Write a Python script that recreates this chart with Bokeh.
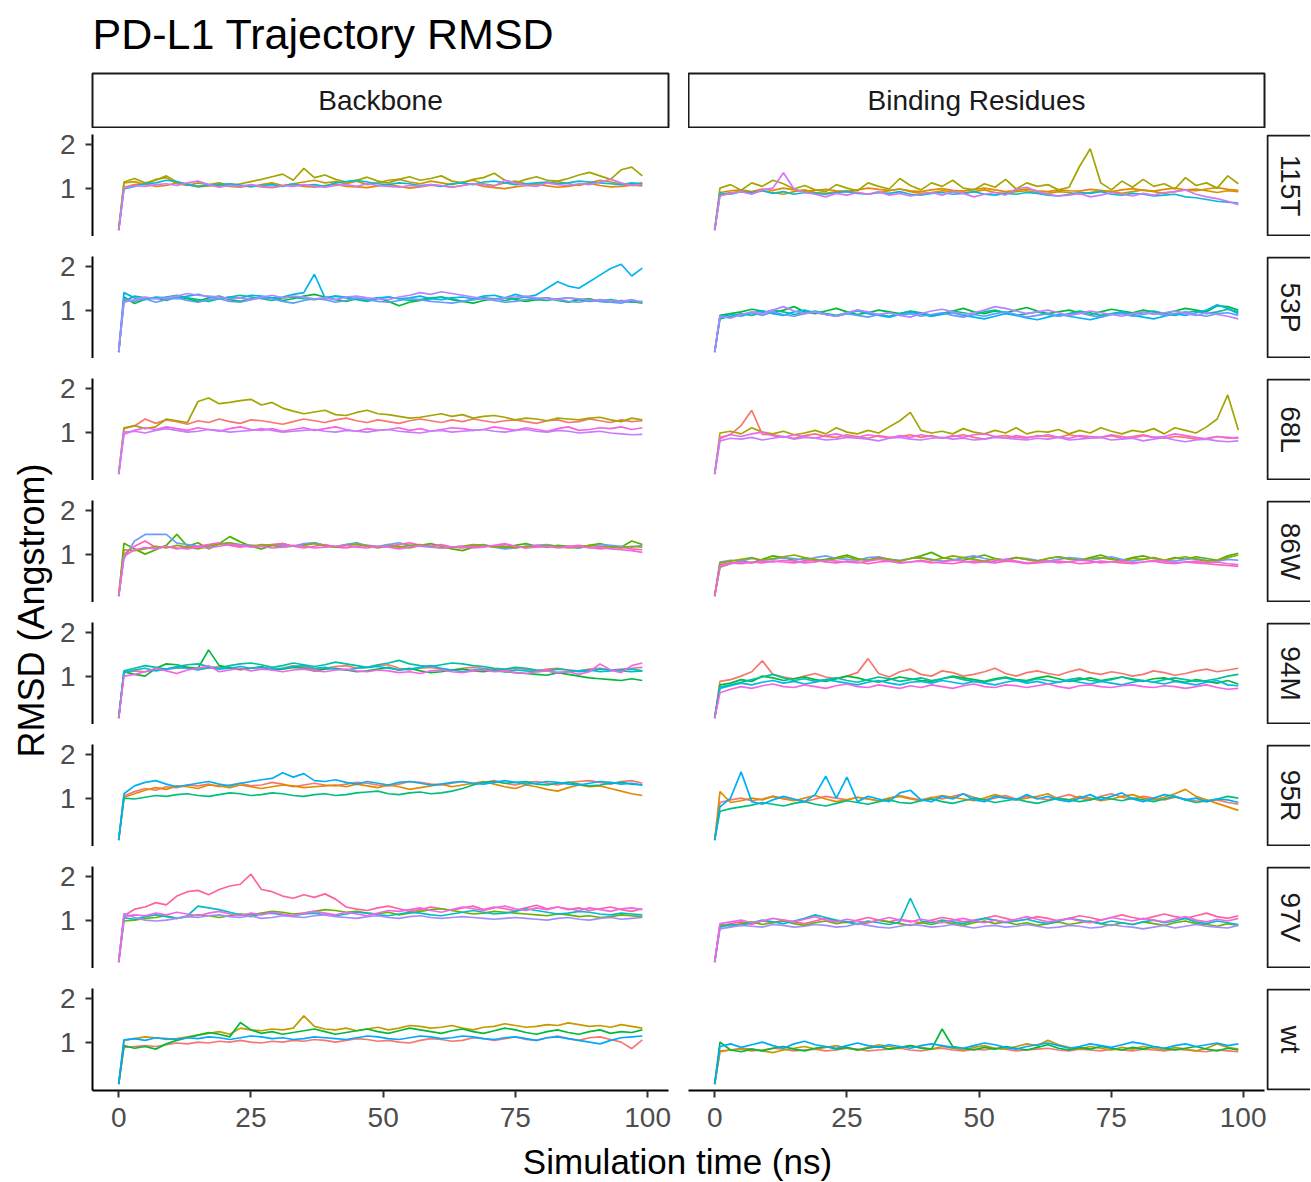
import math
from bokeh.plotting import figure
from bokeh.layouts import column, row
from bokeh.models import Range1d, FixedTicker, Spacer
from bokeh.core.properties import value
from bokeh.embed import file_html
from bokeh.resources import INLINE

FONT = "Liberation Sans"

# ---------------- data (RMSD in hundredths of an Angstrom) ----------------
TIME = [0, 1, 3, 5, 7, 9, 11, 13, 15, 17, 19, 21, 23, 25, 27, 29, 31, 33, 35, 37, 39,
        41, 43, 45, 47, 49, 51, 53, 55, 57, 59, 61, 63, 65, 67, 69, 71, 73, 75, 77, 79,
        81, 83, 85, 87, 89, 91, 93, 95, 97, 99]

MUTANTS = ["115T", "53P", "68L", "86W", "94M", "95R", "97V", "wt"]
FACETS = ["Backbone", "Binding Residues"]
X_TICKS = [0, 25, 50, 75, 100]
Y_TICKS = [1, 2]

COL_115T = ["#E58700", "#C99800", "#A3A500", "#00BCD8", "#D575FE"]
COL_53P = ["#00BA38", "#00C08B", "#00B4EF", "#619CFF", "#B385FF"]
COL_68L = ["#F8766D", "#A3A500", "#F564E3", "#C77CFF", "#FF64B0"]
COL_86W = ["#4DB300", "#6A9DFF", "#FF5FB8", "#8AAB00", "#F066EA"]
COL_94M = ["#F8766D", "#00BA38", "#00C19F", "#00B9E3", "#F564E3"]
COL_95R = ["#F8766D", "#E08B00", "#00BF7D", "#00B0F6"]
COL_97V = ["#FF62A0", "#68B300", "#00BFC4", "#A48CFF", "#F066EA"]
COL_WT = ["#F8766D", "#C49A00", "#00BA38", "#00A9FF"]

BB_115T = [
    [4, 102, 108, 110, 104, 106, 112, 108, 103, 105, 107, 104, 102, 106, 103, 101, 105, 108, 104, 102, 106, 109, 104, 103, 101, 105, 108, 104, 100, 103, 107, 105, 102, 106, 110, 104, 101, 99, 103, 106, 109, 105, 102, 104, 108, 111, 106, 103, 104, 107, 105],
    [4, 112, 115, 108, 120, 124, 110, 106, 112, 108, 104, 110, 106, 103, 108, 112, 106, 110, 114, 118, 112, 115, 110, 116, 108, 112, 118, 120, 114, 110, 116, 112, 108, 114, 118, 110, 106, 112, 116, 110, 108, 112, 115, 110, 106, 112, 118, 114, 110, 108, 112],
    [4, 114, 122, 112, 118, 128, 114, 110, 104, 108, 112, 106, 110, 115, 120, 126, 132, 118, 145, 124, 130, 120, 114, 118, 125, 116, 112, 120, 126, 118, 122, 128, 116, 112, 120, 124, 134, 118, 112, 120, 126, 118, 116, 122, 130, 136, 128, 120, 142, 148, 128],
    [4, 98, 104, 110, 112, 118, 115, 108, 104, 106, 108, 110, 107, 104, 106, 108, 104, 110, 106, 108, 104, 112, 115, 118, 114, 110, 108, 112, 110, 106, 108, 104, 110, 112, 108, 114, 116, 112, 108, 110, 112, 114, 110, 112, 116, 114, 112, 110, 108, 112, 110],
    [4, 100, 106, 104, 108, 110, 106, 112, 116, 108, 102, 106, 104, 108, 104, 102, 106, 104, 108, 104, 102, 106, 108, 104, 110, 106, 104, 102, 106, 104, 108, 106, 102, 106, 110, 108, 104, 118, 112, 106, 104, 112, 108, 106, 110, 108, 114, 120, 112, 106, 108],
]
BR_115T = [
    [4, 90, 94, 96, 92, 98, 95, 100, 96, 93, 95, 97, 94, 92, 96, 100, 97, 95, 98, 94, 92, 96, 99, 95, 93, 97, 100, 96, 92, 95, 98, 94, 92, 96, 94, 93, 97, 95, 92, 96, 99, 95, 93, 97, 100, 96, 94, 98, 101, 97, 95],
    [4, 86, 90, 92, 88, 94, 90, 86, 92, 96, 90, 88, 92, 94, 90, 86, 90, 94, 98, 92, 88, 90, 94, 92, 88, 92, 96, 90, 88, 92, 94, 90, 88, 92, 90, 86, 90, 94, 92, 88, 92, 96, 92, 88, 92, 96, 98, 94, 90, 94, 92],
    [4, 100, 108, 95, 112, 104, 118, 110, 98, 106, 96, 92, 108, 100, 94, 112, 104, 98, 122, 106, 96, 112, 104, 118, 100, 96, 110, 102, 120, 98, 112, 104, 108, 96, 102, 150, 190, 112, 96, 116, 102, 120, 104, 110, 98, 124, 106, 112, 100, 128, 110],
    [4, 88, 86, 92, 90, 94, 88, 92, 86, 90, 88, 86, 90, 92, 88, 86, 90, 88, 92, 86, 84, 88, 90, 86, 88, 92, 86, 84, 88, 86, 90, 88, 84, 82, 86, 90, 88, 92, 86, 84, 88, 86, 82, 84, 86, 80, 78, 74, 70, 68, 66],
    [4, 82, 88, 92, 86, 96, 100, 135, 98, 90, 86, 80, 88, 84, 90, 86, 92, 84, 88, 82, 86, 90, 84, 92, 88, 80, 86, 90, 84, 98, 102, 92, 86, 82, 84, 88, 80, 84, 90, 86, 82, 88, 84, 90, 92, 96, 86, 80, 76, 70, 62],
]

BB_53P = [
    [4, 130, 115, 125, 128, 122, 130, 126, 120, 128, 132, 124, 120, 126, 130, 128, 122, 126, 132, 136, 130, 124, 120, 126, 122, 128, 120, 110, 118, 122, 126, 130, 124, 120, 116, 122, 126, 128, 124, 120, 124, 128, 122, 118, 124, 126, 120, 118, 122, 120, 116],
    [4, 120, 132, 128, 126, 130, 134, 128, 124, 120, 126, 130, 134, 130, 126, 122, 128, 130, 126, 124, 128, 132, 128, 124, 120, 126, 130, 126, 122, 124, 128, 130, 126, 120, 124, 128, 126, 122, 126, 130, 124, 122, 126, 128, 124, 120, 122, 124, 120, 118, 120],
    [4, 140, 128, 124, 130, 128, 126, 132, 136, 130, 126, 130, 128, 134, 132, 128, 130, 136, 140, 182, 128, 132, 130, 126, 124, 128, 130, 126, 128, 132, 126, 124, 128, 130, 126, 132, 134, 128, 136, 130, 135, 150, 165, 155, 150, 165, 180, 195, 205, 178, 196],
    [4, 125, 120, 126, 118, 124, 128, 122, 118, 124, 126, 120, 118, 124, 128, 126, 120, 116, 122, 126, 124, 118, 122, 128, 124, 120, 118, 122, 126, 124, 120, 118, 116, 120, 124, 126, 122, 118, 120, 124, 126, 128, 124, 120, 118, 122, 120, 118, 116, 122, 118],
    [4, 118, 124, 130, 126, 128, 132, 138, 134, 132, 130, 126, 128, 124, 130, 134, 128, 132, 130, 126, 128, 124, 130, 132, 128, 126, 124, 130, 134, 140, 136, 142, 138, 134, 130, 126, 124, 128, 130, 132, 128, 126, 124, 128, 126, 122, 124, 122, 120, 124, 118],
]
BR_53P = [
    [4, 88, 92, 96, 102, 98, 94, 100, 108, 96, 92, 98, 104, 96, 90, 94, 100, 96, 92, 98, 94, 88, 92, 98, 104, 96, 92, 98, 94, 100, 106, 98, 92, 96, 100, 94, 90, 96, 102, 98, 94, 100, 96, 92, 98, 104, 100, 96, 110, 108, 100],
    [4, 80, 86, 92, 88, 94, 100, 96, 90, 94, 98, 92, 88, 94, 100, 94, 90, 86, 92, 96, 90, 86, 92, 98, 94, 90, 96, 100, 94, 88, 92, 96, 90, 86, 92, 98, 94, 88, 92, 96, 90, 94, 98, 92, 88, 94, 98, 92, 96, 102, 96],
    [4, 84, 90, 86, 94, 98, 92, 88, 96, 100, 94, 90, 86, 92, 98, 92, 88, 84, 90, 96, 92, 86, 90, 94, 88, 84, 80, 86, 92, 88, 82, 78, 84, 90, 86, 82, 78, 84, 90, 96, 88, 84, 80, 86, 92, 88, 94, 100, 112, 104, 92],
    [4, 86, 82, 90, 94, 88, 96, 90, 86, 92, 96, 90, 86, 92, 88, 84, 90, 94, 88, 92, 86, 90, 94, 88, 84, 90, 86, 92, 96, 90, 84, 88, 92, 86, 90, 94, 88, 84, 90, 92, 86, 90, 94, 88, 92, 96, 90, 86, 92, 94, 88],
    [4, 86, 82, 90, 96, 92, 100, 108, 98, 92, 96, 90, 86, 94, 100, 96, 90, 94, 88, 84, 92, 98, 102, 96, 90, 94, 100, 108, 104, 98, 92, 96, 100, 94, 88, 92, 98, 94, 90, 86, 92, 96, 90, 94, 98, 92, 88, 94, 90, 86, 80],
]

BB_68L = [
    [4, 108, 114, 130, 120, 128, 124, 118, 126, 122, 130, 124, 120, 128, 126, 122, 118, 124, 130, 126, 122, 128, 132, 126, 122, 128, 124, 120, 126, 130, 126, 122, 128, 124, 130, 126, 122, 126, 128, 124, 120, 126, 128, 122, 124, 130, 126, 122, 128, 124, 126],
    [4, 110, 115, 108, 112, 130, 126, 122, 170, 178, 165, 168, 172, 175, 162, 168, 155, 148, 142, 146, 150, 140, 138, 145, 150, 142, 140, 136, 132, 134, 138, 142, 136, 140, 132, 136, 138, 134, 128, 132, 130, 126, 132, 130, 128, 132, 134, 128, 124, 132, 128],
    [4, 95, 104, 110, 106, 112, 108, 104, 110, 106, 102, 108, 112, 106, 104, 108, 102, 106, 110, 104, 108, 112, 106, 102, 108, 104, 106, 110, 104, 108, 102, 106, 110, 108, 104, 106, 112, 108, 104, 110, 106, 102, 108, 112, 104, 106, 110, 108, 112, 106, 110],
    [4, 100, 102, 98, 104, 108, 104, 100, 102, 106, 104, 100, 102, 104, 108, 104, 100, 102, 104, 106, 102, 100, 104, 102, 100, 104, 106, 102, 100, 98, 102, 104, 100, 102, 104, 106, 102, 100, 104, 106, 102, 100, 104, 102, 98, 100, 102, 98, 96, 94, 95],
]
BR_68L = [
    [4, 85, 95, 115, 150, 95, 94, 90, 86, 92, 96, 90, 88, 94, 90, 86, 92, 88, 90, 94, 88, 92, 86, 90, 94, 88, 84, 90, 92, 88, 86, 92, 90, 88, 94, 90, 86, 88, 92, 86, 90, 94, 88, 86, 90, 88, 84, 86, 90, 88, 86],
    [4, 98, 102, 96, 110, 100, 96, 102, 94, 98, 104, 96, 110, 100, 96, 104, 98, 112, 126, 145, 104, 98, 102, 96, 108, 100, 96, 104, 98, 110, 96, 102, 100, 106, 96, 104, 98, 110, 102, 96, 104, 100, 108, 96, 110, 104, 98, 112, 130, 185, 105],
    [4, 88, 94, 90, 96, 100, 92, 88, 94, 90, 86, 92, 96, 90, 88, 94, 90, 86, 92, 88, 94, 90, 86, 92, 88, 94, 96, 90, 86, 92, 88, 90, 94, 88, 86, 92, 90, 88, 94, 90, 86, 92, 88, 90, 96, 92, 88, 84, 90, 86, 88],
    [4, 80, 86, 84, 88, 82, 86, 90, 84, 88, 86, 82, 84, 88, 86, 84, 80, 86, 88, 84, 82, 86, 88, 84, 86, 82, 84, 88, 86, 84, 82, 86, 84, 88, 82, 84, 86, 88, 82, 84, 86, 80, 84, 88, 82, 78, 82, 84, 80, 78, 80],
]

BB_86W = [
    [4, 125, 112, 100, 110, 120, 145, 118, 126, 112, 124, 140, 128, 118, 112, 120, 124, 118, 122, 126, 120, 116, 122, 126, 118, 116, 122, 118, 114, 120, 124, 118, 112, 108, 116, 120, 118, 114, 120, 124, 118, 116, 120, 118, 114, 120, 124, 118, 116, 130, 122],
    [4, 90, 130, 145, 145, 145, 125, 122, 118, 120, 124, 126, 122, 120, 118, 122, 120, 118, 124, 126, 120, 118, 122, 124, 120, 118, 122, 126, 120, 118, 116, 114, 116, 118, 120, 122, 116, 112, 114, 118, 120, 122, 118, 116, 114, 118, 122, 120, 118, 116, 120],
    [4, 100, 118, 130, 115, 118, 112, 116, 118, 122, 126, 120, 116, 120, 118, 122, 124, 118, 114, 118, 122, 116, 114, 118, 120, 116, 118, 122, 126, 120, 118, 122, 116, 114, 118, 120, 116, 122, 118, 114, 120, 118, 116, 118, 120, 116, 112, 114, 116, 112, 110],
    [4, 110, 108, 112, 118, 114, 120, 116, 112, 118, 122, 126, 120, 118, 122, 120, 116, 118, 120, 124, 118, 116, 120, 122, 118, 114, 118, 116, 120, 122, 118, 114, 116, 118, 122, 120, 116, 118, 114, 118, 116, 120, 118, 114, 116, 120, 118, 116, 114, 118, 116],
    [4, 95, 110, 115, 112, 118, 114, 112, 116, 114, 118, 122, 120, 116, 118, 114, 116, 120, 118, 114, 116, 118, 120, 116, 114, 118, 116, 112, 116, 120, 118, 114, 116, 118, 114, 116, 120, 124, 118, 114, 116, 118, 114, 116, 118, 114, 116, 112, 110, 108, 104],
]
BR_86W = [
    [4, 70, 78, 84, 80, 88, 96, 92, 86, 90, 84, 88, 92, 98, 90, 86, 92, 88, 84, 90, 96, 104, 92, 88, 86, 92, 98, 90, 86, 92, 88, 84, 90, 94, 90, 86, 92, 98, 90, 86, 92, 96, 90, 86, 92, 88, 94, 90, 86, 96, 102],
    [4, 82, 86, 84, 90, 86, 88, 92, 90, 86, 92, 96, 90, 88, 86, 92, 94, 88, 86, 90, 92, 88, 84, 86, 92, 96, 90, 86, 88, 92, 90, 86, 84, 88, 92, 90, 86, 90, 94, 88, 84, 88, 92, 86, 84, 88, 90, 86, 84, 88, 86],
    [4, 76, 80, 78, 82, 80, 84, 82, 80, 84, 86, 82, 80, 84, 82, 78, 82, 84, 80, 82, 86, 82, 80, 78, 82, 84, 82, 80, 84, 82, 78, 80, 82, 84, 82, 78, 80, 84, 82, 80, 78, 82, 84, 80, 78, 82, 80, 78, 76, 74, 72],
    [4, 80, 84, 88, 92, 86, 90, 94, 98, 92, 88, 84, 90, 94, 88, 86, 92, 88, 84, 90, 92, 86, 90, 96, 92, 88, 84, 90, 86, 92, 88, 84, 90, 94, 88, 86, 90, 92, 88, 84, 90, 88, 92, 86, 90, 94, 88, 84, 86, 92, 98],
    [4, 72, 78, 82, 80, 84, 82, 86, 84, 80, 82, 86, 84, 82, 80, 84, 88, 84, 80, 82, 84, 80, 82, 86, 84, 80, 82, 84, 88, 84, 80, 82, 84, 80, 82, 86, 84, 80, 82, 84, 80, 82, 86, 84, 80, 82, 84, 80, 82, 78, 76],
]

BB_94M = [
    [4, 108, 112, 110, 114, 116, 118, 120, 116, 118, 122, 118, 114, 118, 120, 116, 118, 124, 120, 116, 118, 122, 124, 118, 120, 124, 126, 118, 114, 118, 120, 116, 114, 118, 120, 118, 116, 114, 118, 116, 112, 116, 118, 114, 112, 116, 118, 114, 116, 118, 120],
    [4, 110, 104, 100, 118, 128, 126, 120, 118, 160, 124, 120, 116, 118, 122, 114, 116, 120, 118, 112, 116, 118, 114, 110, 112, 116, 120, 114, 118, 112, 108, 110, 114, 116, 112, 110, 114, 110, 108, 106, 104, 102, 108, 104, 100, 96, 94, 92, 90, 94, 90],
    [4, 112, 118, 124, 120, 116, 122, 126, 128, 122, 118, 124, 128, 130, 126, 120, 124, 130, 126, 122, 126, 132, 128, 124, 120, 126, 130, 136, 128, 124, 122, 126, 130, 128, 124, 122, 118, 116, 120, 118, 114, 112, 116, 114, 110, 112, 116, 114, 112, 110, 112],
    [4, 108, 114, 118, 112, 116, 120, 118, 114, 120, 116, 118, 122, 118, 120, 116, 118, 122, 124, 118, 120, 116, 114, 118, 120, 122, 118, 114, 116, 120, 124, 118, 114, 110, 114, 116, 112, 110, 114, 112, 110, 112, 108, 110, 112, 114, 110, 112, 114, 116, 112],
    [4, 100, 104, 110, 118, 112, 106, 114, 118, 124, 110, 114, 118, 112, 116, 114, 110, 114, 116, 112, 110, 114, 116, 112, 110, 114, 112, 108, 110, 106, 112, 114, 110, 108, 112, 114, 110, 112, 108, 106, 110, 112, 108, 110, 104, 110, 128, 114, 108, 124, 130],
]
BR_94M = [
    [4, 88, 92, 100, 110, 135, 104, 98, 94, 100, 106, 98, 94, 100, 108, 140, 106, 98, 110, 116, 104, 100, 112, 108, 100, 104, 110, 118, 106, 100, 108, 112, 106, 102, 110, 116, 108, 104, 110, 106, 100, 104, 112, 108, 102, 106, 112, 116, 110, 114, 118],
    [4, 80, 84, 92, 88, 100, 96, 90, 94, 98, 92, 88, 94, 100, 96, 90, 86, 92, 98, 94, 90, 88, 94, 100, 96, 92, 88, 94, 98, 92, 90, 96, 100, 94, 88, 92, 96, 90, 94, 98, 92, 88, 94, 96, 90, 86, 92, 88, 84, 90, 82],
    [4, 75, 80, 86, 92, 98, 104, 96, 90, 94, 88, 92, 96, 90, 86, 92, 98, 94, 88, 92, 96, 90, 94, 98, 92, 88, 86, 92, 96, 90, 88, 94, 90, 86, 92, 96, 90, 88, 92, 98, 94, 90, 86, 92, 96, 92, 88, 90, 94, 100, 104],
    [4, 72, 78, 84, 80, 86, 90, 84, 88, 82, 86, 92, 88, 84, 80, 86, 90, 84, 80, 86, 88, 84, 90, 86, 82, 88, 84, 80, 86, 90, 84, 88, 82, 86, 90, 86, 82, 88, 84, 80, 86, 90, 86, 82, 88, 84, 80, 86, 90, 80, 78],
    [4, 62, 70, 76, 72, 78, 82, 76, 74, 80, 76, 72, 78, 82, 76, 74, 80, 76, 72, 78, 74, 80, 76, 72, 78, 82, 76, 74, 80, 78, 74, 78, 82, 76, 72, 78, 80, 76, 74, 78, 80, 76, 74, 78, 76, 72, 76, 80, 74, 70, 72],
]

BB_95R = [
    [4, 105, 115, 122, 118, 126, 124, 130, 128, 132, 126, 130, 134, 128, 130, 136, 132, 126, 130, 134, 130, 128, 132, 136, 134, 130, 128, 132, 138, 136, 132, 130, 134, 138, 132, 136, 140, 134, 130, 136, 138, 134, 130, 136, 138, 140, 136, 132, 138, 140, 134],
    [4, 102, 110, 118, 124, 120, 128, 126, 122, 130, 128, 124, 130, 126, 122, 126, 130, 128, 124, 126, 128, 130, 126, 132, 128, 124, 130, 126, 120, 124, 128, 132, 126, 130, 134, 138, 132, 126, 122, 130, 126, 120, 116, 124, 130, 126, 128, 122, 116, 110, 106],
    [4, 100, 98, 102, 106, 104, 108, 110, 106, 104, 108, 112, 110, 106, 108, 112, 110, 106, 104, 108, 110, 106, 108, 112, 114, 116, 110, 108, 112, 114, 110, 112, 116, 122, 130, 136, 138, 134, 136, 138, 132, 130, 134, 136, 132, 128, 130, 134, 136, 132, 130],
    [4, 110, 128, 136, 140, 132, 126, 130, 134, 138, 132, 128, 134, 138, 142, 145, 158, 148, 156, 140, 138, 142, 136, 132, 138, 134, 130, 136, 138, 134, 130, 132, 136, 138, 134, 132, 136, 140, 136, 132, 134, 138, 136, 132, 130, 134, 138, 136, 132, 134, 130],
]
BR_95R = [
    [4, 90, 96, 100, 94, 98, 104, 100, 96, 92, 98, 104, 100, 96, 102, 98, 94, 100, 106, 100, 96, 102, 98, 104, 110, 102, 96, 100, 106, 98, 104, 100, 96, 102, 108, 100, 96, 104, 110, 102, 98, 104, 100, 96, 102, 98, 94, 92, 96, 90, 86],
    [4, 115, 90, 94, 100, 96, 104, 98, 94, 100, 106, 98, 92, 96, 102, 98, 94, 100, 104, 98, 94, 100, 106, 102, 98, 94, 100, 108, 102, 96, 100, 104, 110, 98, 96, 104, 100, 94, 98, 104, 108, 100, 96, 102, 110, 120, 104, 96, 88, 80, 72],
    [4, 70, 76, 80, 84, 90, 86, 82, 88, 92, 86, 82, 88, 94, 90, 86, 92, 96, 90, 88, 94, 98, 92, 88, 94, 100, 96, 90, 94, 98, 92, 88, 94, 100, 96, 92, 96, 102, 98, 94, 100, 96, 92, 98, 104, 96, 90, 94, 98, 104, 100],
    [4, 80, 100, 160, 92, 86, 96, 104, 98, 92, 108, 150, 100, 148, 92, 104, 98, 92, 112, 118, 96, 92, 104, 98, 110, 96, 92, 104, 100, 96, 108, 98, 104, 96, 92, 100, 108, 96, 104, 112, 98, 92, 100, 108, 104, 96, 100, 92, 98, 96, 90],
]

BB_97V = [
    [4, 110, 125, 130, 140, 135, 155, 165, 168, 158, 170, 178, 182, 205, 170, 165, 155, 150, 158, 152, 160, 148, 130, 125, 122, 128, 132, 126, 120, 124, 130, 126, 122, 128, 132, 124, 130, 126, 122, 128, 134, 126, 130, 124, 128, 122, 126, 130, 124, 120, 126],
    [4, 98, 100, 104, 106, 110, 104, 108, 112, 110, 106, 110, 114, 112, 116, 120, 118, 114, 116, 120, 124, 122, 118, 120, 116, 114, 118, 112, 116, 120, 124, 126, 122, 118, 114, 116, 120, 118, 116, 114, 112, 110, 114, 112, 108, 110, 106, 108, 112, 110, 108],
    [4, 105, 102, 108, 112, 108, 104, 110, 132, 128, 124, 118, 112, 108, 114, 116, 112, 110, 114, 116, 112, 110, 114, 118, 116, 112, 110, 114, 118, 116, 112, 110, 114, 118, 122, 118, 114, 116, 120, 126, 122, 118, 114, 116, 120, 118, 114, 112, 116, 114, 112],
    [4, 115, 106, 100, 98, 100, 104, 108, 106, 110, 112, 108, 106, 110, 104, 106, 110, 108, 106, 110, 112, 108, 106, 104, 108, 110, 106, 104, 108, 110, 106, 104, 106, 108, 106, 104, 102, 104, 106, 104, 102, 100, 104, 106, 102, 100, 104, 106, 102, 104, 106],
    [4, 108, 112, 110, 116, 112, 118, 114, 110, 116, 120, 114, 110, 116, 112, 118, 114, 110, 116, 120, 116, 112, 118, 114, 110, 116, 122, 120, 124, 128, 122, 118, 124, 130, 126, 122, 128, 132, 126, 122, 128, 124, 130, 126, 122, 128, 124, 120, 126, 128, 124],
]
BR_97V = [
    [4, 86, 92, 96, 90, 98, 94, 100, 96, 92, 98, 104, 98, 94, 100, 106, 100, 96, 102, 98, 94, 100, 106, 102, 96, 100, 104, 110, 104, 98, 102, 108, 104, 98, 104, 110, 106, 100, 106, 112, 106, 102, 108, 114, 108, 104, 110, 116, 108, 104, 110],
    [4, 90, 86, 92, 96, 90, 94, 98, 92, 88, 94, 98, 92, 96, 90, 94, 100, 96, 92, 88, 94, 90, 96, 92, 88, 94, 98, 92, 96, 90, 94, 88, 92, 96, 90, 94, 98, 92, 88, 94, 90, 96, 92, 88, 94, 98, 92, 90, 86, 92, 88],
    [4, 84, 90, 88, 94, 100, 96, 92, 98, 104, 112, 106, 100, 96, 92, 98, 94, 90, 96, 150, 98, 94, 100, 96, 92, 98, 104, 100, 94, 98, 102, 96, 92, 98, 104, 100, 96, 92, 98, 94, 90, 96, 100, 94, 98, 104, 96, 92, 98, 94, 90],
    [4, 80, 84, 88, 86, 84, 90, 88, 84, 86, 90, 88, 84, 86, 92, 88, 84, 82, 86, 90, 88, 84, 86, 90, 86, 82, 86, 88, 84, 86, 90, 86, 82, 84, 88, 86, 82, 84, 90, 86, 84, 80, 84, 88, 82, 86, 90, 86, 84, 82, 88],
    [4, 92, 96, 100, 94, 98, 104, 100, 96, 102, 108, 100, 96, 102, 98, 94, 100, 106, 100, 96, 102, 98, 94, 100, 104, 98, 94, 100, 96, 102, 108, 102, 96, 100, 104, 98, 94, 100, 106, 102, 98, 104, 100, 96, 102, 108, 100, 96, 102, 98, 104],
]

BB_WT = [
    [4, 88, 90, 92, 90, 94, 98, 96, 100, 98, 102, 100, 104, 100, 98, 102, 100, 104, 102, 106, 104, 100, 104, 108, 106, 102, 104, 100, 98, 104, 108, 106, 102, 104, 110, 108, 104, 108, 112, 106, 104, 110, 114, 108, 104, 110, 112, 106, 100, 85, 105],
    [4, 104, 108, 112, 110, 106, 108, 112, 116, 120, 124, 118, 132, 128, 126, 130, 128, 132, 160, 136, 130, 128, 132, 126, 130, 134, 128, 132, 138, 136, 132, 134, 138, 132, 128, 134, 136, 142, 138, 134, 136, 140, 138, 144, 140, 136, 138, 134, 140, 136, 132],
    [4, 92, 86, 90, 84, 96, 104, 110, 116, 122, 118, 112, 145, 128, 120, 124, 118, 122, 126, 130, 124, 118, 122, 126, 130, 124, 120, 126, 132, 128, 124, 120, 126, 130, 124, 120, 126, 132, 128, 122, 118, 124, 128, 122, 118, 124, 128, 120, 124, 122, 128],
    [4, 105, 108, 104, 110, 108, 106, 110, 108, 112, 110, 106, 110, 114, 112, 108, 110, 106, 108, 112, 110, 108, 106, 110, 114, 112, 108, 106, 110, 114, 112, 108, 110, 114, 112, 108, 106, 110, 112, 108, 104, 110, 112, 108, 104, 100, 96, 104, 110, 112, 114],
]
BR_WT = [
    [4, 80, 82, 84, 80, 82, 86, 84, 80, 82, 84, 80, 82, 86, 84, 80, 82, 84, 86, 82, 80, 84, 86, 82, 80, 84, 82, 86, 84, 80, 82, 84, 86, 82, 80, 84, 82, 80, 84, 82, 80, 84, 82, 80, 84, 82, 80, 78, 82, 80, 78],
    [4, 78, 82, 86, 84, 80, 76, 82, 86, 90, 84, 88, 92, 86, 82, 88, 94, 90, 86, 92, 88, 84, 90, 86, 82, 88, 92, 86, 84, 90, 96, 92, 104, 94, 88, 84, 90, 86, 82, 88, 84, 90, 86, 82, 88, 84, 80, 86, 96, 88, 84],
    [4, 100, 82, 78, 84, 80, 86, 90, 84, 80, 86, 90, 84, 88, 82, 86, 90, 84, 88, 92, 86, 84, 130, 90, 86, 82, 88, 84, 90, 86, 82, 88, 94, 86, 82, 88, 84, 90, 86, 82, 88, 84, 90, 86, 82, 86, 90, 84, 80, 86, 82],
    [4, 90, 96, 88, 94, 100, 92, 86, 96, 102, 94, 90, 86, 92, 98, 92, 88, 94, 90, 86, 92, 96, 92, 88, 86, 92, 98, 94, 88, 84, 90, 94, 98, 92, 86, 90, 96, 92, 88, 94, 100, 96, 90, 86, 92, 96, 90, 94, 98, 92, 96],
]

PANELS = {
    "115T": (BB_115T, BR_115T, COL_115T),
    "53P": (BB_53P, BR_53P, COL_53P),
    "68L": (BB_68L, BR_68L, COL_68L),
    "86W": (BB_86W, BR_86W, COL_86W),
    "94M": (BB_94M, BR_94M, COL_94M),
    "95R": (BB_95R, BR_95R, COL_95R),
    "97V": (BB_97V, BR_97V, COL_97V),
    "wt": (BB_WT, BR_WT, COL_WT),
}

# ---------------- layout constants (page has no margin) ----------------
FRAME_W = 576
FRAME_H = 102
LEFT_BORDER = 38
YLAB_W = 54
SIDE_W = 44
TITLE_H = 72
STRIP_H = 54
GAPS = [6, 20, 20, 20, 20, 20, 20, 20]
BOTTOM_AXIS = 50
XLAB_H = 42
TOTAL_W = YLAB_W + LEFT_BORDER + FRAME_W + 20 + FRAME_W + 2 + SIDE_W

X_RANGE = (-4.95, 103.95)
Y_RANGE = (-0.106, 2.226)


def bare(**kw):
    p = figure(output_backend="svg", toolbar_location=None,
               x_axis_location=None, y_axis_location=None, **kw)
    p.xgrid.grid_line_color = None
    p.ygrid.grid_line_color = None
    p.outline_line_color = None
    p.background_fill_color = "white"
    p.border_fill_color = "white"
    return p


def style_axis(ax, ticks):
    ax.ticker = FixedTicker(ticks=ticks)
    ax.axis_line_color = "black"
    ax.axis_line_width = 2
    ax.major_tick_line_color = "#333333"
    ax.major_tick_line_width = 2
    ax.major_tick_in = 0
    ax.major_tick_out = 7
    ax.minor_tick_line_color = None
    ax.major_label_text_font = FONT
    ax.major_label_text_font_size = "28px"
    ax.major_label_text_color = "#4D4D4D"


def panel(series, colors, col, idx):
    last = idx == len(MUTANTS) - 1
    p = figure(output_backend="svg", toolbar_location=None,
               frame_width=FRAME_W, frame_height=FRAME_H,
               x_range=Range1d(*X_RANGE), y_range=Range1d(*Y_RANGE),
               x_axis_location="below" if last else None,
               y_axis_location="left" if col == 0 else None,
               min_border_left=LEFT_BORDER if col == 0 else 0,
               min_border_right=20 if col == 0 else 2,
               min_border_top=GAPS[idx],
               min_border_bottom=BOTTOM_AXIS if last else 0)
    p.xgrid.grid_line_color = None
    p.ygrid.grid_line_color = None
    p.outline_line_color = None
    if col == 0:
        style_axis(p.yaxis[0], Y_TICKS)
        p.yaxis[0].major_label_standoff = 10
    if last:
        style_axis(p.xaxis[0], X_TICKS)
        p.xaxis[0].major_label_standoff = 10
    for vals, c in zip(series, colors):
        n = min(len(TIME), len(vals))
        p.line(TIME[:n], [v / 100.0 for v in vals[:n]], line_color=c, line_width=1.7)
    return p


def top_strip(label, col):
    p = bare(frame_width=FRAME_W, frame_height=STRIP_H,
             x_range=Range1d(0, 1), y_range=Range1d(0, 1),
             min_border_left=LEFT_BORDER if col == 0 else 0,
             min_border_right=20 if col == 0 else 2,
             min_border_top=1, min_border_bottom=1)
    p.outline_line_color = "#1A1A1A"
    p.outline_line_width = 2
    p.text(x=[0.5], y=[0.5], text=[label], text_align="center", text_baseline="middle",
           text_font=value(FONT), text_font_size=value("28px"), text_color="#1A1A1A")
    return p


def side_strip(label, idx):
    last = idx == len(MUTANTS) - 1
    p = bare(frame_width=SIDE_W, frame_height=FRAME_H,
             x_range=Range1d(0, SIDE_W), y_range=Range1d(0, FRAME_H),
             min_border_left=0, min_border_right=0,
             min_border_top=GAPS[idx], min_border_bottom=BOTTOM_AXIS if last else 0)
    p.quad(left=[1], right=[SIDE_W + 40], bottom=[1], top=[FRAME_H - 1],
           fill_color="white", line_color="#1A1A1A", line_width=2)
    p.text(x=[24], y=[FRAME_H / 2], text=[label], angle=-math.pi / 2,
           text_align="center", text_baseline="middle",
           text_font=value(FONT), text_font_size=value("28px"), text_color="#1A1A1A")
    return p


# title (vertically centred on the capitals, page y ~32)
title_fig = bare(frame_width=TOTAL_W, frame_height=TITLE_H,
                 x_range=Range1d(0, TOTAL_W), y_range=Range1d(0, TITLE_H),
                 min_border=0)
title_fig.text(x=[92], y=[TITLE_H - 33], text=["PD-L1 Trajectory RMSD"], text_align="left",
               text_baseline="middle", text_font=value(FONT),
               text_font_size=value("43px"), text_color="black")

# strips
strip_row = row(top_strip(FACETS[0], 0), top_strip(FACETS[1], 1),
                Spacer(width=SIDE_W, height=STRIP_H + 2))

rows = [strip_row]
for i, m in enumerate(MUTANTS):
    bb, br, cols = PANELS[m]
    rows.append(row(panel(bb, cols, 0, i), panel(br, cols, 1, i), side_strip(m, i)))

stack_h = STRIP_H + 2 + sum(GAPS) + FRAME_H * len(MUTANTS) + BOTTOM_AXIS

ylab_fig = bare(frame_width=YLAB_W, frame_height=stack_h,
                x_range=Range1d(0, YLAB_W), y_range=Range1d(0, stack_h),
                min_border=0)
ylab_fig.text(x=[31], y=[stack_h - (610 - TITLE_H)], text=["RMSD (Angstrom)"], angle=math.pi / 2,
              text_align="center", text_baseline="middle", text_font=value(FONT),
              text_font_size=value("36px"), text_color="black")

xlab_fig = bare(frame_width=TOTAL_W, frame_height=XLAB_H,
                x_range=Range1d(0, TOTAL_W), y_range=Range1d(0, XLAB_H),
                min_border=0)
xlab_fig.text(x=[677], y=[XLAB_H / 2], text=["Simulation time (ns)"],
              text_align="center", text_baseline="middle", text_font=value(FONT),
              text_font_size=value("35px"), text_color="black")

layout = column(title_fig, row(ylab_fig, column(*rows)), xlab_fig)

open("out.html", "w").write(file_html(layout, INLINE, title="PD-L1 Trajectory RMSD"))
